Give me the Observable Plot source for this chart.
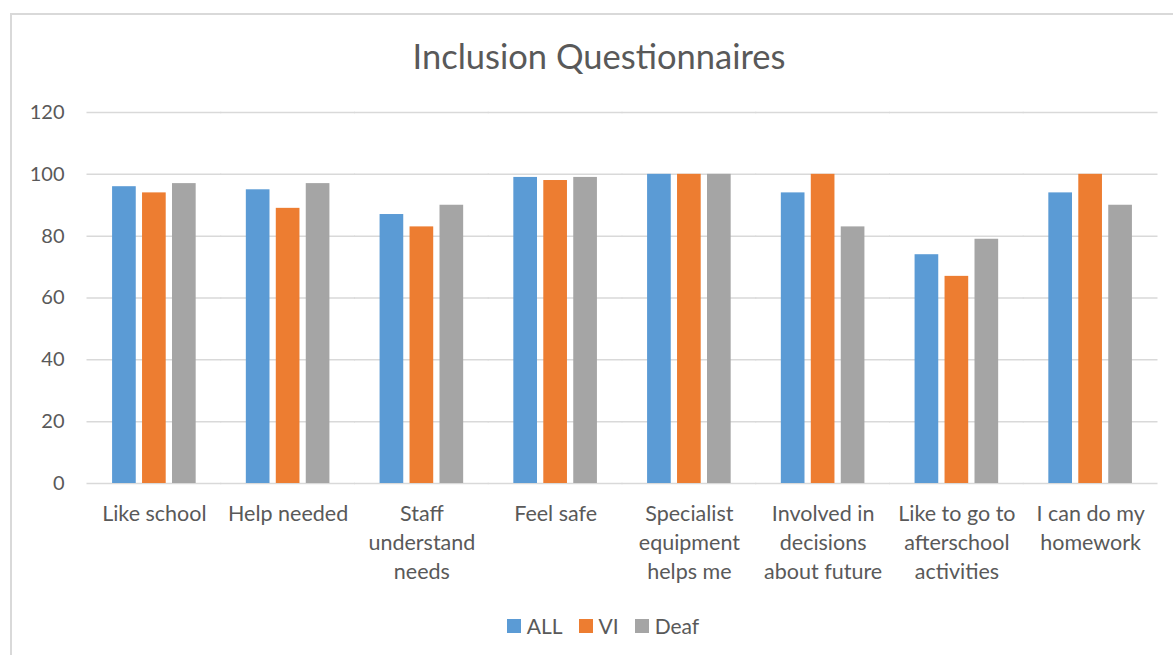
<!DOCTYPE html>
<html>
<head>
<meta charset="utf-8">
<script src="https://cdn.jsdelivr.net/npm/d3@7"></script>
<script src="https://cdn.jsdelivr.net/npm/@observablehq/plot@0.6"></script>
<style>
  html, body { margin: 0; padding: 0; background: #fff; }
  body { width: 1173px; height: 655px; overflow: hidden; position: relative; font-family: Lato, "Open Sans", sans-serif; color: #595959; }
  #frame { position: absolute; left: 10px; top: 13px; width: 1300px; height: 800px; border-left: 2px solid #d9d9d9; border-top: 2px solid #d9d9d9; box-sizing: border-box; }
  #title { position: absolute; left: 0; width: 1198px; top: 33px; text-align: center; font-size: 34.5px; line-height: 46px; }
  #chart { position: absolute; left: 0; top: 90px; }
  #legend { position: absolute; left: 0; width: 1206px; top: 612px; display: flex; justify-content: center; gap: 16px; font-size: 21px; line-height: 28px; }
  #legend span { display: inline-flex; align-items: center; gap: 6px; }
  #legend i { display: inline-block; width: 14px; height: 14px; }
</style>
</head>
<body>
<div id="frame"></div>
<div id="title">Inclusion Questionnaires</div>
<div id="chart"></div>
<div id="legend"></div>
<script>
// Survey categories (line breaks are the wrapped tick labels)
const categories = [
  "Like school",
  "Help needed",
  "Staff\nunderstand\nneeds",
  "Feel safe",
  "Specialist\nequipment\nhelps me",
  "Involved in\ndecisions\nabout future",
  "Like to go to\nafterschool\nactivities",
  "I can do my\nhomework"
];
const series = ["ALL", "VI", "Deaf"];
const colors = ["#5B9BD5", "#ED7D31", "#A5A5A5"];
const allValues  = [96, 95, 87, 99, 100, 94, 74, 94];
const viValues   = [94, 89, 83, 98, 100, 100, 67, 100];
const deafValues = [97, 97, 90, 99, 100, 83, 79, 90];
const yTicks = [0, 20, 40, 60, 80, 100, 120];

const valuesBySeries = [allValues, viValues, deafValues];
const data = [];
categories.forEach((c, i) => {
  series.forEach((s, j) => data.push({category: c, series: s, value: valuesBySeries[j][i]}));
});

const width = 1173, marginLeft = 87, marginRight = 16;
const fxPaddingInner = 0.375, fxPaddingOuter = 0.1875;
// Half of the gap between category groups, so each facet's gridlines meet their neighbours
const step = (width - marginLeft - marginRight) / (categories.length - fxPaddingInner + 2 * fxPaddingOuter);
const gridReach = -step * fxPaddingInner / 2 - 0.5;
// The y axis hangs off the first facet, so its labels sit left of the plot edge by this much more
const outerGap = step * fxPaddingOuter;

const chart = Plot.plot({
  width,
  height: 500,
  marginLeft,
  marginRight,
  marginTop: 22,
  marginBottom: 107,
  style: {fontFamily: "Lato, 'Open Sans', sans-serif", background: "transparent"},
  fx: {domain: categories, paddingInner: fxPaddingInner, paddingOuter: fxPaddingOuter, round: false, label: null},
  x: {domain: series, paddingInner: 0.21, paddingOuter: 0, round: false, axis: null},
  y: {domain: [0, 120], label: null, axis: null},
  color: {domain: series, range: colors},
  marks: [
    Plot.ruleY(yTicks, {stroke: "#d9d9d9", strokeWidth: 1.5, insetLeft: gridReach, insetRight: gridReach}),
    Plot.barY(data, {fx: "category", x: "series", y: "value", fill: "series"}),
    Plot.axisY({ticks: yTicks, tickSize: 0, tickPadding: 23 + outerGap, fontSize: 20, color: "#595959", label: null}),
    Plot.axisFx({anchor: "bottom", tickSize: 0, tickPadding: 17, fontSize: 21.5, lineHeight: 1.35, color: "#595959", label: null})
  ]
});
document.getElementById("chart").appendChild(chart);

const legend = document.getElementById("legend");
series.forEach((s, j) => {
  const item = document.createElement("span");
  const sw = document.createElement("i");
  sw.style.background = colors[j];
  item.appendChild(sw);
  item.appendChild(document.createTextNode(s));
  legend.appendChild(item);
});
</script>
</body>
</html>
